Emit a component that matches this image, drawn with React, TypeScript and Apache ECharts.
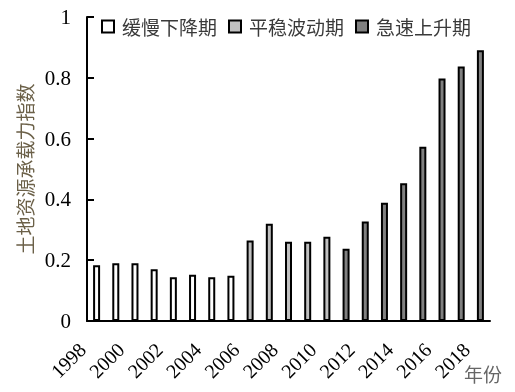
import React, { useEffect, useRef } from "react";
import * as echarts from "echarts";

const years = ["1998","1999","2000","2001","2002","2003","2004","2005","2006","2007","2008","2009","2010","2011","2012","2013","2014","2015","2016","2017","2018"];
const values = [0.183,0.19,0.19,0.17,0.144,0.152,0.144,0.149,0.265,0.32,0.261,0.261,0.277,0.238,0.327,0.389,0.453,0.573,0.798,0.837,0.891];
const periods = ["缓慢下降期","平稳波动期","急速上升期"];
const periodIndex = [0,0,0,0,0,0,0,0,1,1,1,1,1,2,2,2,2,2,2,2,2];
const periodColors = ["#ffffff","#c0c0c0","#808080"];
const yTicks = [0,0.2,0.4,0.6,0.8,1];

const serif = "'Liberation Serif', 'Times New Roman', serif";
const cjk = "'Noto Sans CJK SC', sans-serif";

export default function App() {
  const ref = useRef<HTMLDivElement>(null);
  useEffect(() => {
    if (!ref.current) return;
    const chart = echarts.init(ref.current, null, { renderer: "svg" });
    const series = periods.map((name, p) => ({
      name,
      type: "bar",
      stack: "all",
      barWidth: 7,
      data: values.map((v, i) => (periodIndex[i] === p ? v : "-")),
      itemStyle: { color: periodColors[p], borderColor: "#000", borderWidth: 2 },
    }));
    chart.setOption({
      animation: false,
      grid: { left: 87, right: 25, top: 17, bottom: 71, containLabel: false },
      legend: {
        left: 96,
        top: 12,
        itemWidth: 12,
        itemHeight: 12,
        itemGap: 11,
        icon: "rect",
        data: periods,
        itemStyle: { borderColor: "#000", borderWidth: 2 },
        textStyle: { fontFamily: cjk, fontSize: 19, color: "#3a3a3a", padding: [0, 0, 0, 3] },
      },
      xAxis: {
        type: "category",
        data: years,
        boundaryGap: true,
        axisLine: { lineStyle: { color: "#000", width: 2 } },
        axisTick: { inside: true, length: 7, interval: 0, lineStyle: { color: "#000", width: 2 } },
        axisLabel: {
          interval: 1,
          rotate: 45,
          margin: 11,
          padding: [0, 20, 0, 0],
          color: "#000",
          fontFamily: serif,
          fontSize: 20,
        },
      },
      yAxis: {
        type: "value",
        min: 0,
        max: 1,
        interval: 0.2,
        name: "土地资源承载力指数",
        nameLocation: "middle",
        nameGap: 52,
        nameTextStyle: { fontFamily: cjk, fontSize: 19, color: "#6b6048" },
        splitLine: { show: false },
        axisLine: { show: true, lineStyle: { color: "#000", width: 2 } },
        axisTick: { show: true, inside: true, length: 7, lineStyle: { color: "#000", width: 2 } },
        axisLabel: {
          margin: 16,
          color: "#000",
          fontFamily: serif,
          fontSize: 21,
          formatter: (v: number) => (yTicks.includes(Number(v.toFixed(1))) ? String(Number(v.toFixed(1))) : ""),
        },
      },
      graphic: [
        {
          type: "text",
          left: 464,
          top: 364,
          style: { text: "年份", fontFamily: cjk, fontSize: 19, fill: "#666" },
        },
      ],
      series,
    });
    return () => chart.dispose();
  }, []);
  return <div ref={ref} style={{ position: "fixed", left: 0, top: 0, width: 515, height: 392 }} />;
}
